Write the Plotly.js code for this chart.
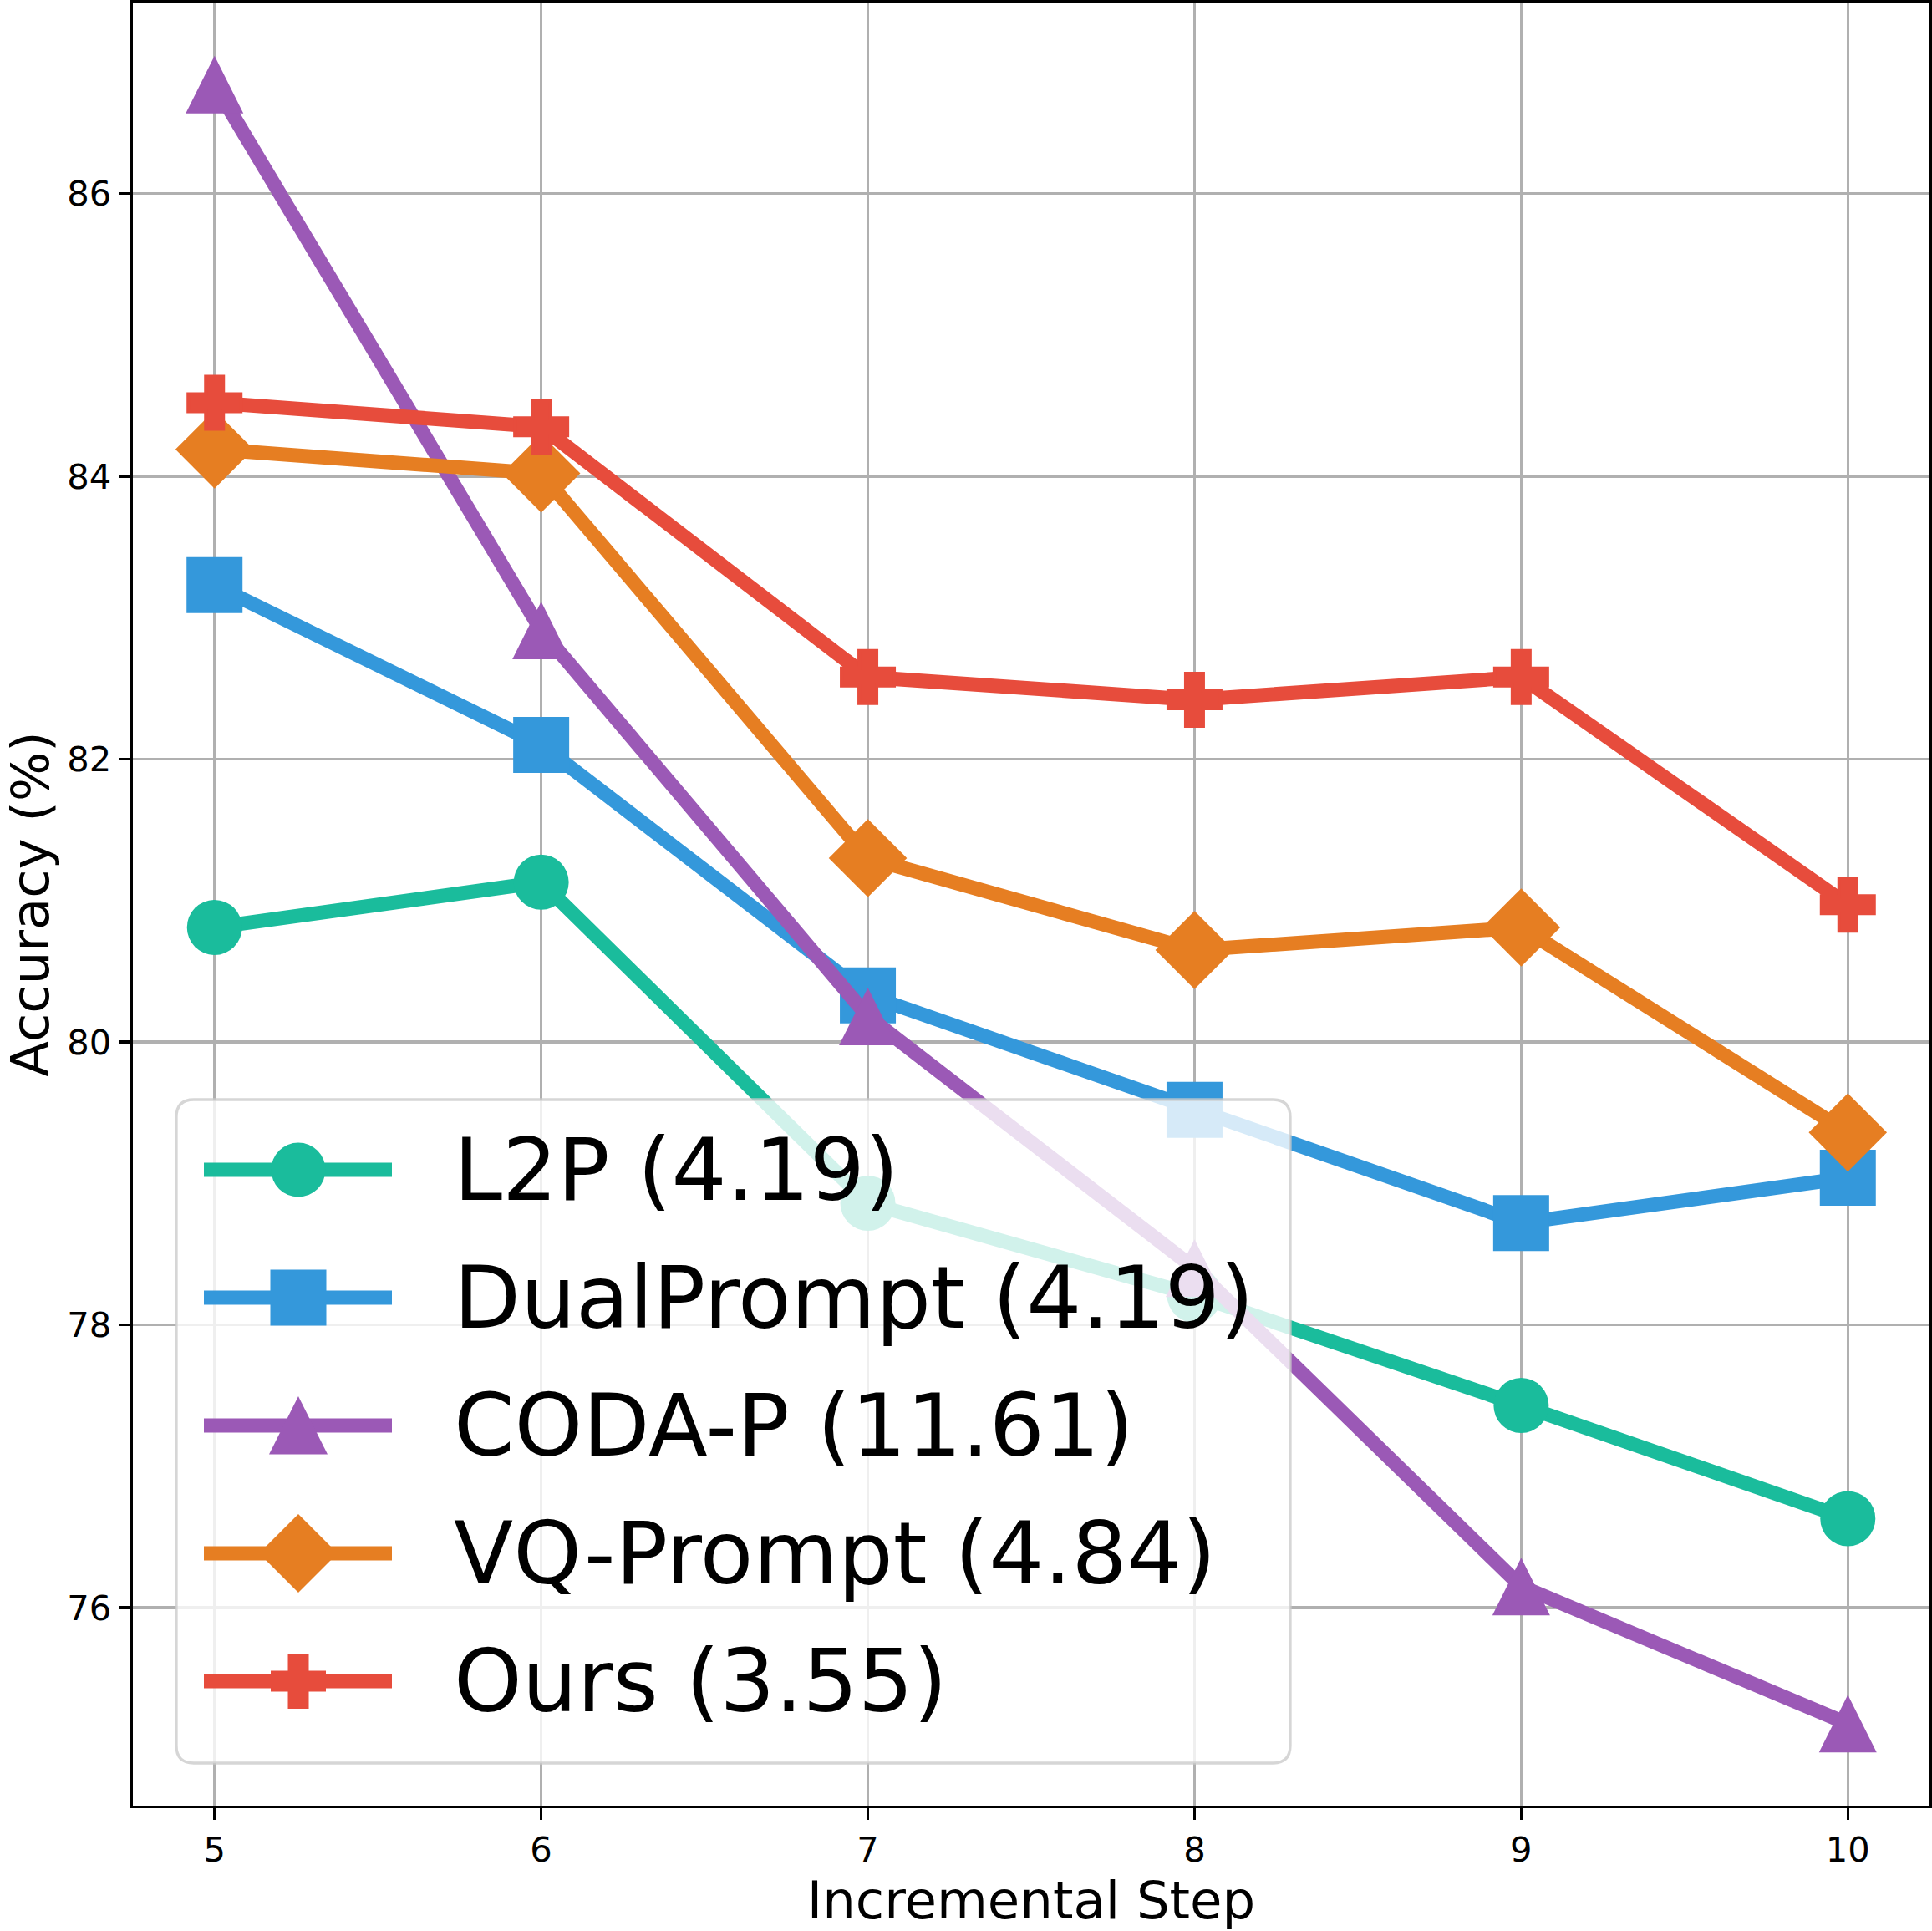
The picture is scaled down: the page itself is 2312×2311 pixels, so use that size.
<!DOCTYPE html>
<html>
<head>
<meta charset="utf-8">
<script src="https://cdn.plot.ly/plotly-3.0.1.min.js"></script>
<style>
  html, body { margin: 0; padding: 0; background: #fff; }
  #chart { width: 2312px; height: 2311px; }
</style>
</head>
<body>
<div id="chart"></div>
<script>
// Accuracy (%) at each incremental step for the prompt-based methods
const steps = [5, 6, 7, 8, 9, 10];
const l2p        = [80.81, 81.13, 78.86, 78.21, 77.43, 76.63];
const dualPrompt = [83.23, 82.10, 80.33, 79.52, 78.72, 79.04];
const codaP      = [86.77, 82.91, 80.18, 78.40, 76.15, 75.18];
const vqPrompt   = [84.19, 84.02, 81.30, 80.65, 80.81, 79.36];
const ours       = [84.52, 84.35, 82.58, 82.42, 82.58, 80.97];

const seriesNames  = ['L2P (4.19)', 'DualPrompt (4.19)', 'CODA-P (11.61)', 'VQ-Prompt (4.84)', 'Ours (3.55)'];
const seriesColors = ['#1abc9c', '#3498db', '#9b59b6', '#e67e22', '#e74c3c'];
const yTickVals = [76, 78, 80, 82, 84, 86];
const xAxisTitle = 'Incremental Step';
const yAxisTitle = 'Accuracy (%)';

const seriesValues = [l2p, dualPrompt, codaP, vqPrompt, ours];

// ---- figure geometry ----
const FIG_W = 2312, FIG_H = 2311;
const MARGIN = { l: 159, r: 3, t: 3, b: 150 };
const PLOT_W = FIG_W - MARGIN.l - MARGIN.r;
const PLOT_H = FIG_H - MARGIN.t - MARGIN.b;
const FONT = 'DejaVu Sans, Liberation Sans, sans-serif';
const LINE_W = 17;

// marker look per series (plot markers)
const markerStyles = [
  { symbol: 'circle', size: 66 },
  { symbol: 'square', size: 67 },
  { symbol: 'arrow-down', size: 69, angle: 180, standoff: 34.5 },
  { symbol: 'diamond', size: 72 },
  { symbol: 'cross', size: 52.5, lineWidth: 4 }
];

const traces = seriesValues.map((vals, i) => {
  const st = markerStyles[i];
  const marker = {
    symbol: st.symbol,
    size: st.size,
    color: seriesColors[i],
    line: { width: st.lineWidth || 0, color: seriesColors[i] }
  };
  if (st.angle !== undefined) marker.angle = st.angle;
  if (st.standoff !== undefined) marker.standoff = st.standoff;
  return {
    type: 'scatter',
    mode: 'lines+markers',
    name: seriesNames[i],
    x: steps,
    y: vals,
    line: { color: seriesColors[i], width: LINE_W },
    marker: marker,
    cliponaxis: false,
    showlegend: false,
    hoverinfo: 'skip'
  };
});

// ---- hand-built legend (pixel offsets from the plot's bottom-left corner, y up) ----
const LEG = {
  x0: 52, x1: 1385, y0: 51, y1: 845, radius: 21,
  firstRow: 761, rowPitch: 153,
  handleX0: 85, handleX1: 310, glyphX: 198, textX: 382,
  fontSize: 104
};

function roundedRectPath(x0, y0, x1, y1, r) {
  return [
    `M${x0 + r},${y0}`, `L${x1 - r},${y0}`, `Q${x1},${y0} ${x1},${y0 + r}`,
    `L${x1},${y1 - r}`, `Q${x1},${y1} ${x1 - r},${y1}`,
    `L${x0 + r},${y1}`, `Q${x0},${y1} ${x0},${y1 - r}`,
    `L${x0},${y0 + r}`, `Q${x0},${y0} ${x0 + r},${y0}`, 'Z'
  ].join(' ');
}

function polyPath(pts) {
  return pts.map((p, k) => (k === 0 ? 'M' : 'L') + p[0] + ',' + p[1]).join(' ') + ' Z';
}

function glyphShape(symbol, cx, cy, color) {
  const base = {
    xref: 'paper', yref: 'paper', xsizemode: 'pixel', ysizemode: 'pixel',
    xanchor: 0, yanchor: 0, layer: 'above',
    fillcolor: color, line: { width: 0 }
  };
  if (symbol === 'circle') {
    return Object.assign(base, { type: 'circle', x0: cx - 32.5, x1: cx + 32.5, y0: cy - 32.5, y1: cy + 32.5 });
  }
  if (symbol === 'square') {
    return Object.assign(base, { type: 'rect', x0: cx - 33.5, x1: cx + 33.5, y0: cy - 33.5, y1: cy + 33.5 });
  }
  let pts;
  if (symbol === 'arrow-down') {          // upward triangle
    pts = [[cx, cy + 35], [cx + 35, cy - 34.5], [cx - 35, cy - 34.5]];
  } else if (symbol === 'diamond') {
    pts = [[cx, cy + 47], [cx + 47, cy], [cx, cy - 47], [cx - 47, cy]];
  } else {                                // filled plus
    const e = 33, a = 12.5;
    pts = [[cx - a, cy + e], [cx + a, cy + e], [cx + a, cy + a], [cx + e, cy + a],
           [cx + e, cy - a], [cx + a, cy - a], [cx + a, cy - e], [cx - a, cy - e],
           [cx - a, cy - a], [cx - e, cy - a], [cx - e, cy + a], [cx - a, cy + a]];
  }
  return Object.assign(base, { type: 'path', path: polyPath(pts) });
}

const shapes = [{
  type: 'path', xref: 'paper', yref: 'paper', xsizemode: 'pixel', ysizemode: 'pixel',
  xanchor: 0, yanchor: 0, layer: 'above',
  path: roundedRectPath(LEG.x0, LEG.y0, LEG.x1, LEG.y1, LEG.radius),
  fillcolor: 'rgba(255,255,255,0.8)',
  line: { color: 'rgba(204,204,204,0.8)', width: 3.3 }
}];
const annotations = [];

seriesNames.forEach((name, i) => {
  const cy = LEG.firstRow - i * LEG.rowPitch;
  shapes.push({
    type: 'line', xref: 'paper', yref: 'paper', xsizemode: 'pixel', ysizemode: 'pixel',
    xanchor: 0, yanchor: 0, layer: 'above',
    x0: LEG.handleX0, x1: LEG.handleX1, y0: cy, y1: cy,
    line: { color: seriesColors[i], width: LINE_W }
  });
  shapes.push(glyphShape(markerStyles[i].symbol, LEG.glyphX, cy, seriesColors[i]));
  annotations.push({
    xref: 'paper', yref: 'paper',
    x: LEG.textX / PLOT_W, y: cy / PLOT_H,
    xanchor: 'left', yanchor: 'middle',
    text: name, showarrow: false,
    font: { family: FONT, size: LEG.fontSize, color: '#000' }
  });
});

const axisCommon = {
  showline: true, linecolor: '#000', linewidth: 3.3, mirror: true,
  ticks: 'outside', ticklen: 14, tickwidth: 3.3, tickcolor: '#000',
  showgrid: true, gridcolor: '#b0b0b0', gridwidth: 3.3,
  zeroline: false,
  tickfont: { family: FONT, size: 41.7, color: '#000' }
};

const layout = {
  width: FIG_W, height: FIG_H,
  margin: MARGIN,
  paper_bgcolor: '#fff', plot_bgcolor: '#fff',
  showlegend: false,
  font: { family: FONT, color: '#000' },
  xaxis: Object.assign({}, axisCommon, {
    range: [4.75, 10.25],
    tickvals: steps,
    ticktext: steps.map(String),
    title: { text: xAxisTitle, font: { family: FONT, size: 62.5, color: '#000' }, standoff: 24 }
  }),
  yaxis: Object.assign({}, axisCommon, {
    range: [74.60, 87.35],
    tickvals: yTickVals,
    ticktext: yTickVals.map(String),
    title: { text: yAxisTitle, font: { family: FONT, size: 62.5, color: '#000' }, standoff: 30 }
  }),
  shapes: shapes,
  annotations: annotations
};

Plotly.newPlot('chart', traces, layout, { staticPlot: true, displayModeBar: false });
</script>
</body>
</html>
